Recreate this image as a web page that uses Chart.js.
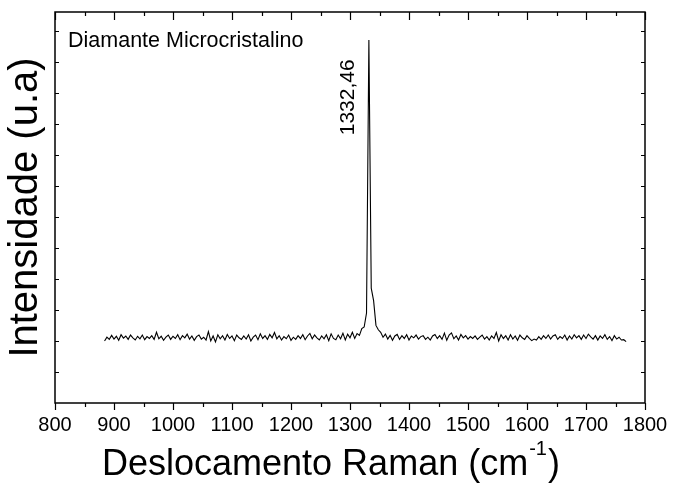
<!DOCTYPE html>
<html>
<head>
<meta charset="utf-8">
<script src="https://cdn.jsdelivr.net/npm/chart.js@4.4.0/dist/chart.umd.min.js"></script>
<style>
  html, body { margin: 0; padding: 0; background: #fff; }
  #wrap { width: 673px; height: 483px; position: relative; }
</style>
</head>
<body>
<div id="wrap"><canvas id="raman-chart"></canvas></div>
<script>
// Espectro Raman — diamante microcristalino

// sampling grid of the spectrometer (cm-1)
const SHIFT_START = 884;
const SHIFT_STEP = 4;

// intensity (a.u.), one value per sample
const intensity = [
  2.00, 2.12, 2.05, 2.18, 2.06, 2.15, 2.02, 2.20, 2.09, 2.16,
  2.05, 2.19, 2.10, 2.03, 2.15, 2.07, 2.19, 2.04, 2.14, 2.08,
  2.17, 2.05, 2.28, 2.07, 2.15, 2.02, 2.12, 2.19, 2.05, 2.15,
  2.08, 2.20, 2.04, 2.17, 2.10, 2.22, 2.06, 2.16, 2.02, 2.14,
  2.19, 2.06, 2.12, 2.03, 2.30, 2.00, 2.16, 1.97, 2.20, 2.07,
  2.17, 2.03, 2.21, 2.08, 2.16, 2.01, 2.19, 2.10, 2.05, 2.16,
  2.06, 2.20, 2.00, 2.12, 2.19, 2.04, 2.23, 2.08, 2.17, 2.05,
  2.21, 2.10, 2.27, 2.07, 2.17, 2.03, 2.14, 2.07, 2.19, 2.02,
  2.12, 2.05, 2.17, 2.08, 2.20, 2.04, 2.16, 2.24, 2.07, 2.19,
  2.10, 2.03, 2.16, 2.07, 2.20, 2.01, 2.23, 2.08, 2.04, 2.19,
  2.07, 2.25, 2.03, 2.22, 2.10, 2.28, 2.08, 2.24, 2.18, 2.40,
  2.45, 2.90, 11.70, 3.70, 3.30, 2.50, 2.36, 2.28, 2.12, 2.22,
  2.06, 2.18, 2.02, 2.16, 2.21, 2.05, 2.17, 2.08, 2.20, 2.03,
  2.16, 2.10, 2.19, 2.06, 2.14, 2.17, 2.05, 2.12, 2.03, 2.16,
  2.21, 2.08, 2.17, 2.05, 2.25, 2.02, 2.19, 2.26, 2.07, 2.16,
  2.03, 2.21, 2.10, 2.17, 2.06, 2.14, 2.08, 2.16, 2.05, 2.12,
  2.19, 2.06, 2.14, 2.03, 2.16, 2.08, 2.27, 2.00, 2.20, 2.08,
  2.17, 2.03, 2.20, 2.06, 2.16, 2.02, 2.19, 2.10, 2.05, 2.17,
  2.08, 2.01, 2.06, 2.03, 2.14, 2.05, 2.17, 2.08, 2.19, 2.06,
  2.16, 2.20, 2.05, 2.14, 2.08, 2.19, 2.03, 2.16, 2.06, 2.20,
  2.10, 2.17, 2.05, 2.19, 2.08, 2.22, 2.13, 2.06, 2.17, 2.03,
  2.16, 2.08, 2.20, 2.05, 2.14, 2.01, 2.17, 2.06, 2.12, 2.03,
  2.04, 1.98
];

const ramanShift = intensity.map((_, i) => SHIFT_START + i * SHIFT_STEP);

// axis ranges and tick marks
const xMin = 800, xMax = 1800;
const xMajorTicks = [800, 900, 1000, 1100, 1200, 1300, 1400, 1500, 1600, 1700, 1800];
const xMinorTicks = [850, 950, 1050, 1150, 1250, 1350, 1450, 1550, 1650, 1750];
const yMin = 0, yMax = 12.6;
const yTicks = [1, 2, 3, 4, 5, 6, 7, 8, 9, 10, 11, 12];

// annotations
const sampleLabel = 'Diamante Microcristalino';
const peakPos = 1332.46;
const peakLabel = '1332,46';

const FONT = '"Liberation Sans", Arial, sans-serif';

// frame, ticks, x title with superscript, annotations
const framePlugin = {
  id: 'frame',
  afterDraw(chart) {
    const { ctx, chartArea: a, scales: { x, y } } = chart;
    ctx.save();
    ctx.strokeStyle = '#000';
    ctx.lineWidth = 1.5;
    ctx.strokeRect(a.left, a.top, a.right - a.left, a.bottom - a.top);

    ctx.lineWidth = 1.2;
    ctx.beginPath();
    xMajorTicks.forEach(v => {
      const px = Math.round(x.getPixelForValue(v)) + 0.5;
      ctx.moveTo(px, a.bottom); ctx.lineTo(px, a.bottom + 7);
      ctx.moveTo(px, a.top); ctx.lineTo(px, a.top + 8);
    });
    xMinorTicks.forEach(v => {
      const px = Math.round(x.getPixelForValue(v)) + 0.5;
      ctx.moveTo(px, a.bottom); ctx.lineTo(px, a.bottom + 4);
      ctx.moveTo(px, a.top); ctx.lineTo(px, a.top + 4);
    });
    yTicks.forEach(v => {
      const py = Math.round(y.getPixelForValue(v)) + 0.5;
      ctx.moveTo(a.left, py); ctx.lineTo(a.left + 4, py);
      ctx.moveTo(a.right, py); ctx.lineTo(a.right - 4, py);
    });
    ctx.stroke();

    // x axis title: Deslocamento Raman (cm^-1)
    ctx.fillStyle = '#000';
    ctx.textBaseline = 'alphabetic';
    ctx.textAlign = 'left';
    const mainFont = '36px ' + FONT;
    const supFont = '20px ' + FONT;
    const partA = 'Deslocamento Raman (cm';
    const partB = '-1';
    const partC = ')';
    ctx.font = mainFont;
    const wA = ctx.measureText(partA).width;
    ctx.font = supFont;
    const wB = ctx.measureText(partB).width;
    const tx = 102;
    const ty = 475;
    ctx.font = mainFont;
    ctx.fillText(partA, tx, ty);
    ctx.font = supFont;
    ctx.fillText(partB, tx + wA + 1, ty - 20);
    ctx.font = mainFont;
    ctx.fillText(partC, tx + wA + wB + 2, ty);

    // sample label, top left
    ctx.font = '21.5px ' + FONT;
    ctx.fillText(sampleLabel, a.left + 13, 47);

    // peak position, rotated, left of the peak
    const pk = x.getPixelForValue(peakPos);
    ctx.translate(pk - 21, y.getPixelForValue(9.85));
    ctx.rotate(-Math.PI / 2);
    ctx.textAlign = 'center';
    ctx.textBaseline = 'middle';
    ctx.font = '21px ' + FONT;
    ctx.fillText(peakLabel, 0, 0);
    ctx.restore();
  }
};

new Chart(document.getElementById('raman-chart'), {
  type: 'line',
  data: {
    labels: ramanShift,
    datasets: [{
      data: ramanShift.map((s, i) => ({ x: s, y: intensity[i] })),
      borderColor: '#000',
      borderWidth: 1.1,
      pointRadius: 0,
      tension: 0,
      fill: false
    }]
  },
  options: {
    responsive: true,
    maintainAspectRatio: false,
    animation: false,
    layout: { padding: { top: 12, right: 28, left: 0, bottom: 0 } },
    plugins: { legend: { display: false }, tooltip: { enabled: false } },
    scales: {
      x: {
        type: 'linear',
        min: xMin,
        max: xMax,
        afterBuildTicks: s => { s.ticks = xMajorTicks.map(v => ({ value: v })); },
        afterFit: s => { s.height = 80; s.paddingLeft = 0; s.paddingRight = 0; },
        ticks: {
          color: '#000',
          padding: 10,
          maxRotation: 0,
          autoSkip: false,
          font: { family: FONT, size: 20 },
          callback: v => String(v)
        },
        grid: { display: false, drawTicks: false },
        border: { display: false }
      },
      y: {
        min: yMin,
        max: yMax,
        afterFit: s => { s.width = 55; s.paddingTop = 0; s.paddingBottom = 0; },
        ticks: { display: false },
        grid: { display: false, drawTicks: false },
        border: { display: false },
        title: {
          display: true,
          text: 'Intensidade (u.a)',
          color: '#000',
          padding: { top: 2, bottom: 0 },
          font: { family: FONT, size: 40 }
        }
      }
    }
  },
  plugins: [framePlugin]
});
</script>
</body>
</html>
